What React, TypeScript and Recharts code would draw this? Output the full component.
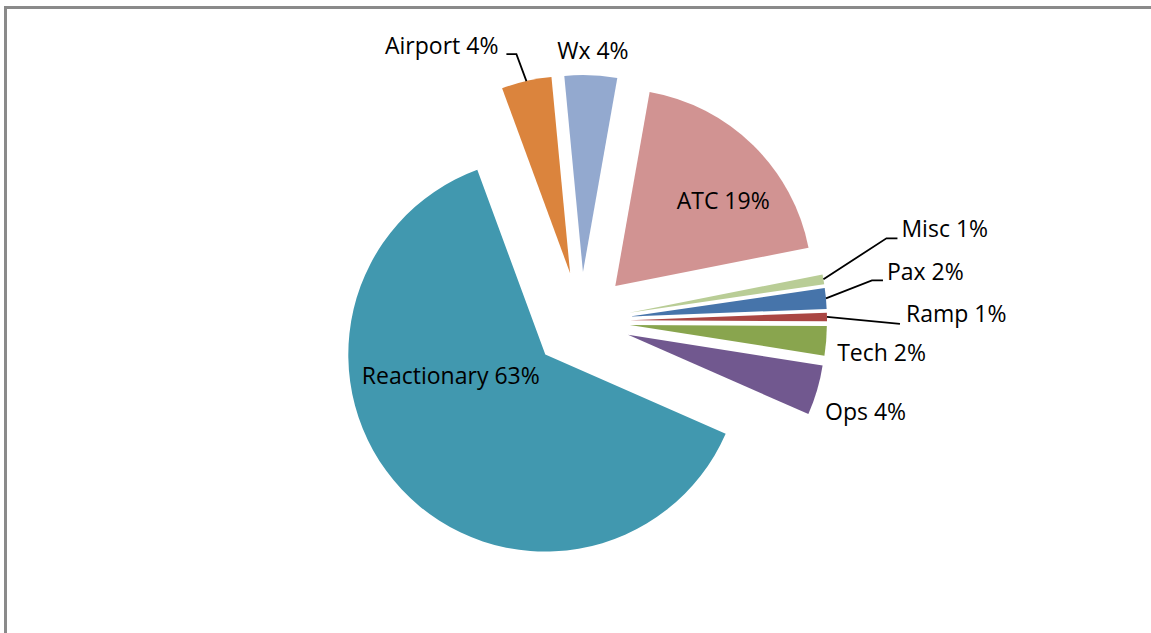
import { PieChart, Pie, Sector } from "recharts";

// delay causes, share of total delay (%)
const categories = ["Airport", "Wx", "ATC", "Misc", "Pax", "Ramp", "Tech", "Ops", "Reactionary"];
const shares = [4.1, 4.3, 19.1, 0.8, 1.7, 0.7, 2.4, 4.1, 62.8];

const COLORS = [
  "#DB843D",
  "#93A9CF",
  "#D19392",
  "#B9CD96",
  "#4674AA",
  "#AA4643",
  "#89A54E",
  "#71588F",
  "#4198AF",
];

const RADIAN = Math.PI / 180;
const EXPLODE = 49;

// label placement, relative to the outer middle point of each exploded slice
type LabelSpec = {
  dx: number;
  dy: number;
  anchor: "start" | "middle" | "end";
  leader?: [number, number][];
};

const LABELS: LabelSpec[] = [
  { dx: -28, dy: -27, anchor: "end", leader: [[-10, -27], [-20, -27]] },
  { dx: 2, dy: -16, anchor: "middle" },
  { dx: -30, dy: 64, anchor: "middle" },
  { dx: 78, dy: -42, anchor: "start", leader: [[63, -41], [74, -41]] },
  { dx: 61, dy: -18, anchor: "start", leader: [[46, -18], [57, -18]] },
  { dx: 79, dy: 5, anchor: "start", leader: [[73, 7]] },
  { dx: 11, dy: 20, anchor: "start" },
  { dx: 8, dy: 30, anchor: "start" },
  { dx: 49, dy: -106, anchor: "middle" },
];

const data = categories.map((name, i) => ({ name, value: shares[i] }));

function renderSlice(props: any) {
  const { cx, cy, midAngle, startAngle, endAngle, outerRadius, index, percent, name } = props;
  const ux = Math.cos(-midAngle * RADIAN);
  const uy = Math.sin(-midAngle * RADIAN);
  const ex = cx + EXPLODE * ux;
  const ey = cy + EXPLODE * uy;
  const px = ex + outerRadius * ux;
  const py = ey + outerRadius * uy;
  const spec = LABELS[index];

  return (
    <g>
      <Sector
        cx={ex}
        cy={ey}
        innerRadius={0}
        outerRadius={outerRadius}
        startAngle={startAngle}
        endAngle={endAngle}
        fill={COLORS[index]}
        stroke="none"
      />
      {spec.leader && (
        <polyline
          points={[[0, 0], ...spec.leader].map(([x, y]) => `${px + x},${py + y}`).join(" ")}
          fill="none"
          stroke="#000"
          strokeWidth={1.8}
        />
      )}
      <text
        x={px + spec.dx}
        y={py + spec.dy}
        textAnchor={spec.anchor}
        fill="#000"
        fontSize={23}
        fontFamily="'Open Sans', sans-serif"
      >
        {`${name} ${Math.round(percent * 100)}%`}
      </text>
    </g>
  );
}

export default function App() {
  return (
    <div style={{ position: "absolute", left: 0, top: 0, width: 1151, height: 633, background: "#fff" }}>
      <div
        style={{
          position: "absolute",
          left: 4,
          top: 6,
          right: 0,
          bottom: 0,
          borderTop: "3px solid #8a8a8a",
          borderLeft: "3px solid #8a8a8a",
        }}
      />
      <div style={{ position: "absolute", left: 0, top: 0 }}>
        <PieChart width={1151} height={633} margin={{ top: 0, right: 0, bottom: 0, left: 0 }}>
          <Pie
            data={data}
            dataKey="value"
            nameKey="name"
            cx={581}
            cy={321}
            outerRadius={197}
            startAngle={110.2}
            endAngle={-249.8}
            fill="transparent"
            stroke="none"
            label={renderSlice}
            labelLine={false}
            isAnimationActive={false}
          />
        </PieChart>
      </div>
    </div>
  );
}
